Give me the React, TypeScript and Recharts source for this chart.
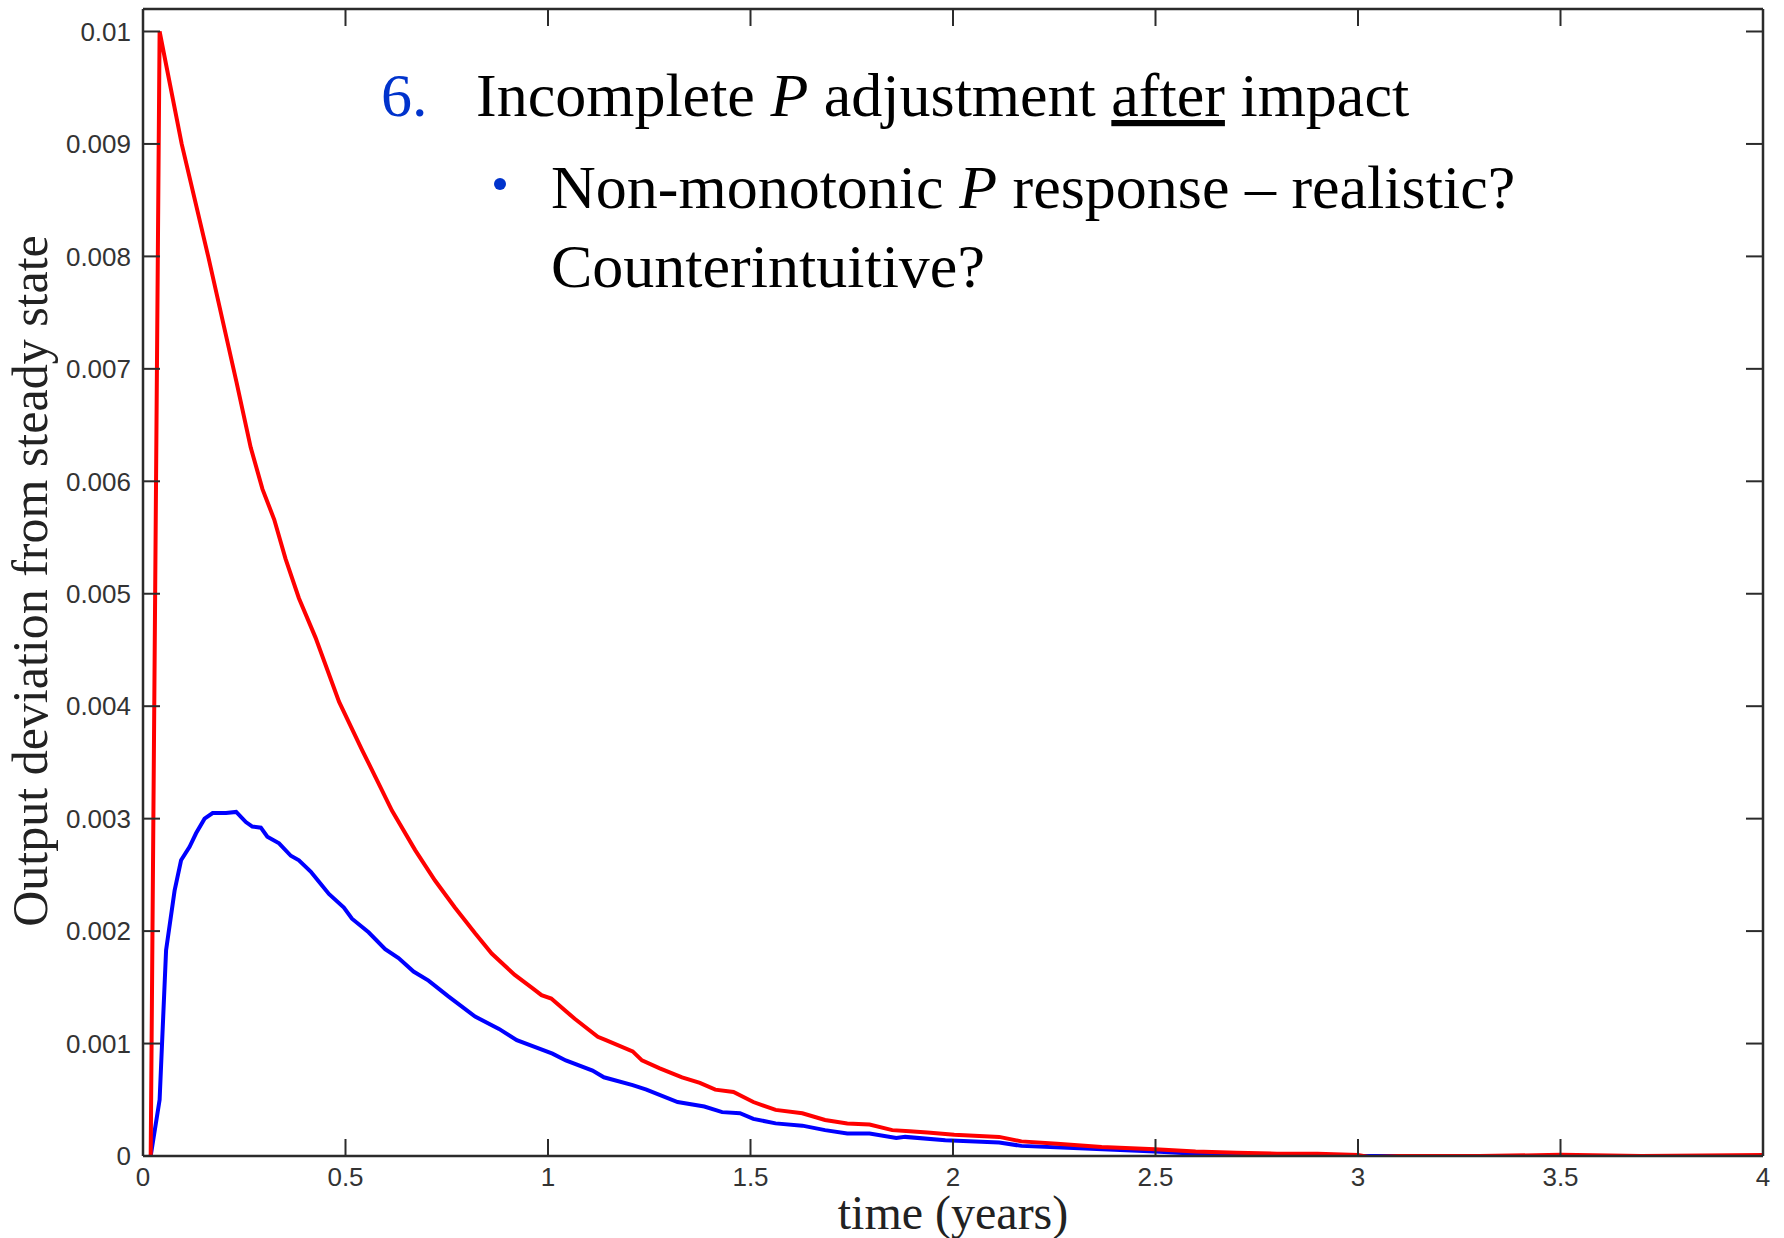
import { LineChart, Line, XAxis, YAxis } from "recharts";

// time in years, output deviation from steady state
const redTime = [
  0.019, 0.041, 0.0955, 0.161, 0.231, 0.266, 0.295, 0.324, 0.352, 0.385, 0.426,
  0.484, 0.541, 0.574, 0.615, 0.672, 0.721, 0.77, 0.82, 0.861, 0.918, 0.959,
  0.984, 1.008, 1.066, 1.123, 1.143, 1.209, 1.232, 1.276, 1.331, 1.375, 1.413,
  1.458, 1.507, 1.562, 1.628, 1.684, 1.739, 1.794, 1.85, 1.893, 1.937, 2.003,
  2.114, 2.169, 2.257, 2.367, 2.499, 2.599, 2.7, 2.8, 2.9, 3.0, 3.03, 3.1, 3.3,
  3.5, 3.7, 4.0,
];
const redValue = [
  0, 0.01, 0.009, 0.008, 0.00688, 0.0063, 0.00593, 0.00566, 0.00531, 0.00496,
  0.00461, 0.00404, 0.00361, 0.00337, 0.00307, 0.00272, 0.00245, 0.00221,
  0.00198, 0.0018, 0.00161, 0.0015, 0.00143, 0.0014, 0.00122, 0.00106,
  0.00103, 0.00093, 0.00085, 0.00078, 0.0007, 0.00065, 0.00059, 0.00057,
  0.00048, 0.00041, 0.00038, 0.00032, 0.00029, 0.00028, 0.00023, 0.00022,
  0.00021, 0.00019, 0.00017, 0.00013, 0.00011, 0.00008, 0.00006, 0.00004,
  0.00003, 0.00002, 0.00002, 0.00001, -0.00001, 0, 0, 0.00001, 0, 0.00001,
];

const blueTime = [
  0.019, 0.041, 0.057, 0.078, 0.094, 0.115, 0.131, 0.152, 0.172, 0.205, 0.23,
  0.254, 0.27, 0.291, 0.307, 0.336, 0.365, 0.385, 0.414, 0.434, 0.459, 0.496,
  0.516, 0.557, 0.598, 0.631, 0.668, 0.705, 0.754, 0.82, 0.879, 0.923, 0.967,
  1.011, 1.044, 1.11, 1.138, 1.209, 1.243, 1.32, 1.386, 1.43, 1.474, 1.507,
  1.562, 1.628, 1.684, 1.739, 1.794, 1.86, 1.882, 1.981, 2.114, 2.169, 2.312,
  2.499, 2.599, 2.8, 3.0, 4.0,
];
const blueValue = [
  0, 0.0005, 0.00183, 0.00236, 0.00263, 0.00275, 0.00287, 0.003, 0.00305,
  0.00305, 0.00306, 0.00297, 0.00293, 0.00292, 0.00284, 0.00278, 0.00267,
  0.00263, 0.00253, 0.00244, 0.00233, 0.00221, 0.00211, 0.00199, 0.00184,
  0.00176, 0.00164, 0.00156, 0.00142, 0.00124, 0.00113, 0.00103, 0.00097,
  0.00091, 0.00085, 0.00076, 0.0007, 0.00063, 0.00059, 0.00048, 0.00044,
  0.00039, 0.00038, 0.00033, 0.00029, 0.00027, 0.00023, 0.0002, 0.0002,
  0.00016, 0.00017, 0.00014, 0.00012, 0.00009, 0.00007, 0.00004, 0.00002,
  0.00001, 0, 0,
];

const xTicks = [0, 0.5, 1, 1.5, 2, 2.5, 3, 3.5, 4];
const yTicks = [
  0, 0.001, 0.002, 0.003, 0.004, 0.005, 0.006, 0.007, 0.008, 0.009, 0.01,
];

const redData = redTime.map((t, i) => ({ t, v: redValue[i] }));
const blueData = blueTime.map((t, i) => ({ t, v: blueValue[i] }));

const W = 1784;
const H = 1238;
const MARGIN = { top: 8, right: 20, left: 0, bottom: 0 };
const Y_AXIS_W = 143;
const X_AXIS_H = 82;
const BORDER_AXIS = 1; // size of the top / right border axes
const PLOT_TOP = MARGIN.top + BORDER_AXIS;
const PLOT_RIGHT = W - MARGIN.right - BORDER_AXIS;

const axisColor = "#2b2b2b";
const sans = "Liberation Sans, Arial, sans-serif";
const serif = "Liberation Serif, Times New Roman, serif";
const GAP = 12; // label distance from axis
const TICK = 17; // inward tick length
const TICK_FONT = 26;

const fmtY = (v: number) => String(Number(v.toFixed(3)));

// bottom tick: label, inward tick, and the matching tick on the top border
function BottomTick(props: any) {
  const { x, y, payload } = props;
  return (
    <g>
      <line x1={x} x2={x} y1={y - GAP} y2={y - GAP - TICK} stroke={axisColor} strokeWidth={2} />
      <line x1={x} x2={x} y1={PLOT_TOP} y2={PLOT_TOP + TICK} stroke={axisColor} strokeWidth={2} />
      <text x={x} y={y} dy="0.71em" textAnchor="middle" fontFamily={sans} fontSize={TICK_FONT} fill="#333">
        {String(payload.value)}
      </text>
    </g>
  );
}

// left tick: label, inward tick, and the matching tick on the right border
function LeftTick(props: any) {
  const { x, y, payload } = props;
  return (
    <g>
      <line x1={x + GAP} x2={x + GAP + TICK} y1={y} y2={y} stroke={axisColor} strokeWidth={2} />
      <line x1={PLOT_RIGHT} x2={PLOT_RIGHT - TICK} y1={y} y2={y} stroke={axisColor} strokeWidth={2} />
      <text x={x} y={y} dy="0.355em" textAnchor="end" fontFamily={sans} fontSize={TICK_FONT} fill="#333">
        {fmtY(payload.value)}
      </text>
    </g>
  );
}

function NoTick() {
  return <g />;
}

const lineStyle = { stroke: axisColor, strokeWidth: 2.5 };

export default function App() {
  return (
    <div style={{ position: "absolute", left: 0, top: 0, width: W, height: H, background: "#fff" }}>
      <LineChart width={W} height={H} margin={MARGIN}>
        <XAxis
          dataKey="t"
          type="number"
          domain={[0, 4]}
          ticks={xTicks}
          allowDataOverflow
          height={X_AXIS_H}
          tickSize={0}
          tickMargin={GAP}
          tick={BottomTick}
          tickLine={false}
          axisLine={lineStyle}
        />
        <XAxis
          xAxisId="top"
          orientation="top"
          dataKey="t"
          type="number"
          domain={[0, 4]}
          ticks={xTicks}
          height={BORDER_AXIS}
          tickSize={0}
          tick={NoTick}
          tickLine={false}
          axisLine={lineStyle}
        />
        <YAxis
          type="number"
          domain={[0, 0.0102]}
          ticks={yTicks}
          allowDataOverflow
          width={Y_AXIS_W}
          tickSize={0}
          tickMargin={GAP}
          tick={LeftTick}
          tickLine={false}
          axisLine={lineStyle}
        />
        <YAxis
          yAxisId="right"
          orientation="right"
          type="number"
          domain={[0, 0.0102]}
          ticks={yTicks}
          width={BORDER_AXIS}
          tickSize={0}
          tick={NoTick}
          tickLine={false}
          axisLine={lineStyle}
        />
        <Line
          data={blueData}
          dataKey="v"
          type="linear"
          stroke="#0000ff"
          strokeWidth={4}
          dot={false}
          isAnimationActive={false}
        />
        <Line
          data={redData}
          dataKey="v"
          type="linear"
          stroke="#ff0000"
          strokeWidth={4}
          dot={false}
          isAnimationActive={false}
        />
      </LineChart>
      <svg
        width={W}
        height={H}
        style={{ position: "absolute", left: 0, top: 0, pointerEvents: "none" }}
      >
        <text x={953} y={1229} textAnchor="middle" fontFamily={serif} fontSize={48} fill="#222">
          time (years)
        </text>
        <text
          transform="rotate(-90)"
          x={-581}
          y={47}
          textAnchor="middle"
          fontFamily={serif}
          fontSize={50}
          fill="#222"
        >
          Output deviation from steady state
        </text>
        <text x={381} y={116} fontFamily={serif} fontSize={62} fill="#0033cc">
          6.
        </text>
        <text x={476} y={116} fontFamily={serif} fontSize={62} fill="#000">
          {"Incomplete "}
          <tspan fontStyle="italic">P</tspan>
          {" adjustment "}
          <tspan textDecoration="underline">after</tspan>
          {" impact"}
        </text>
        <circle cx={500} cy={184} r={6} fill="#0033cc" />
        <text x={551} y={208} fontFamily={serif} fontSize={62} fill="#000">
          {"Non-monotonic "}
          <tspan fontStyle="italic">P</tspan>
          {" response \u2013 realistic?"}
        </text>
        <text x={551} y={287} fontFamily={serif} fontSize={62} fill="#000">
          Counterintuitive?
        </text>
      </svg>
    </div>
  );
}
